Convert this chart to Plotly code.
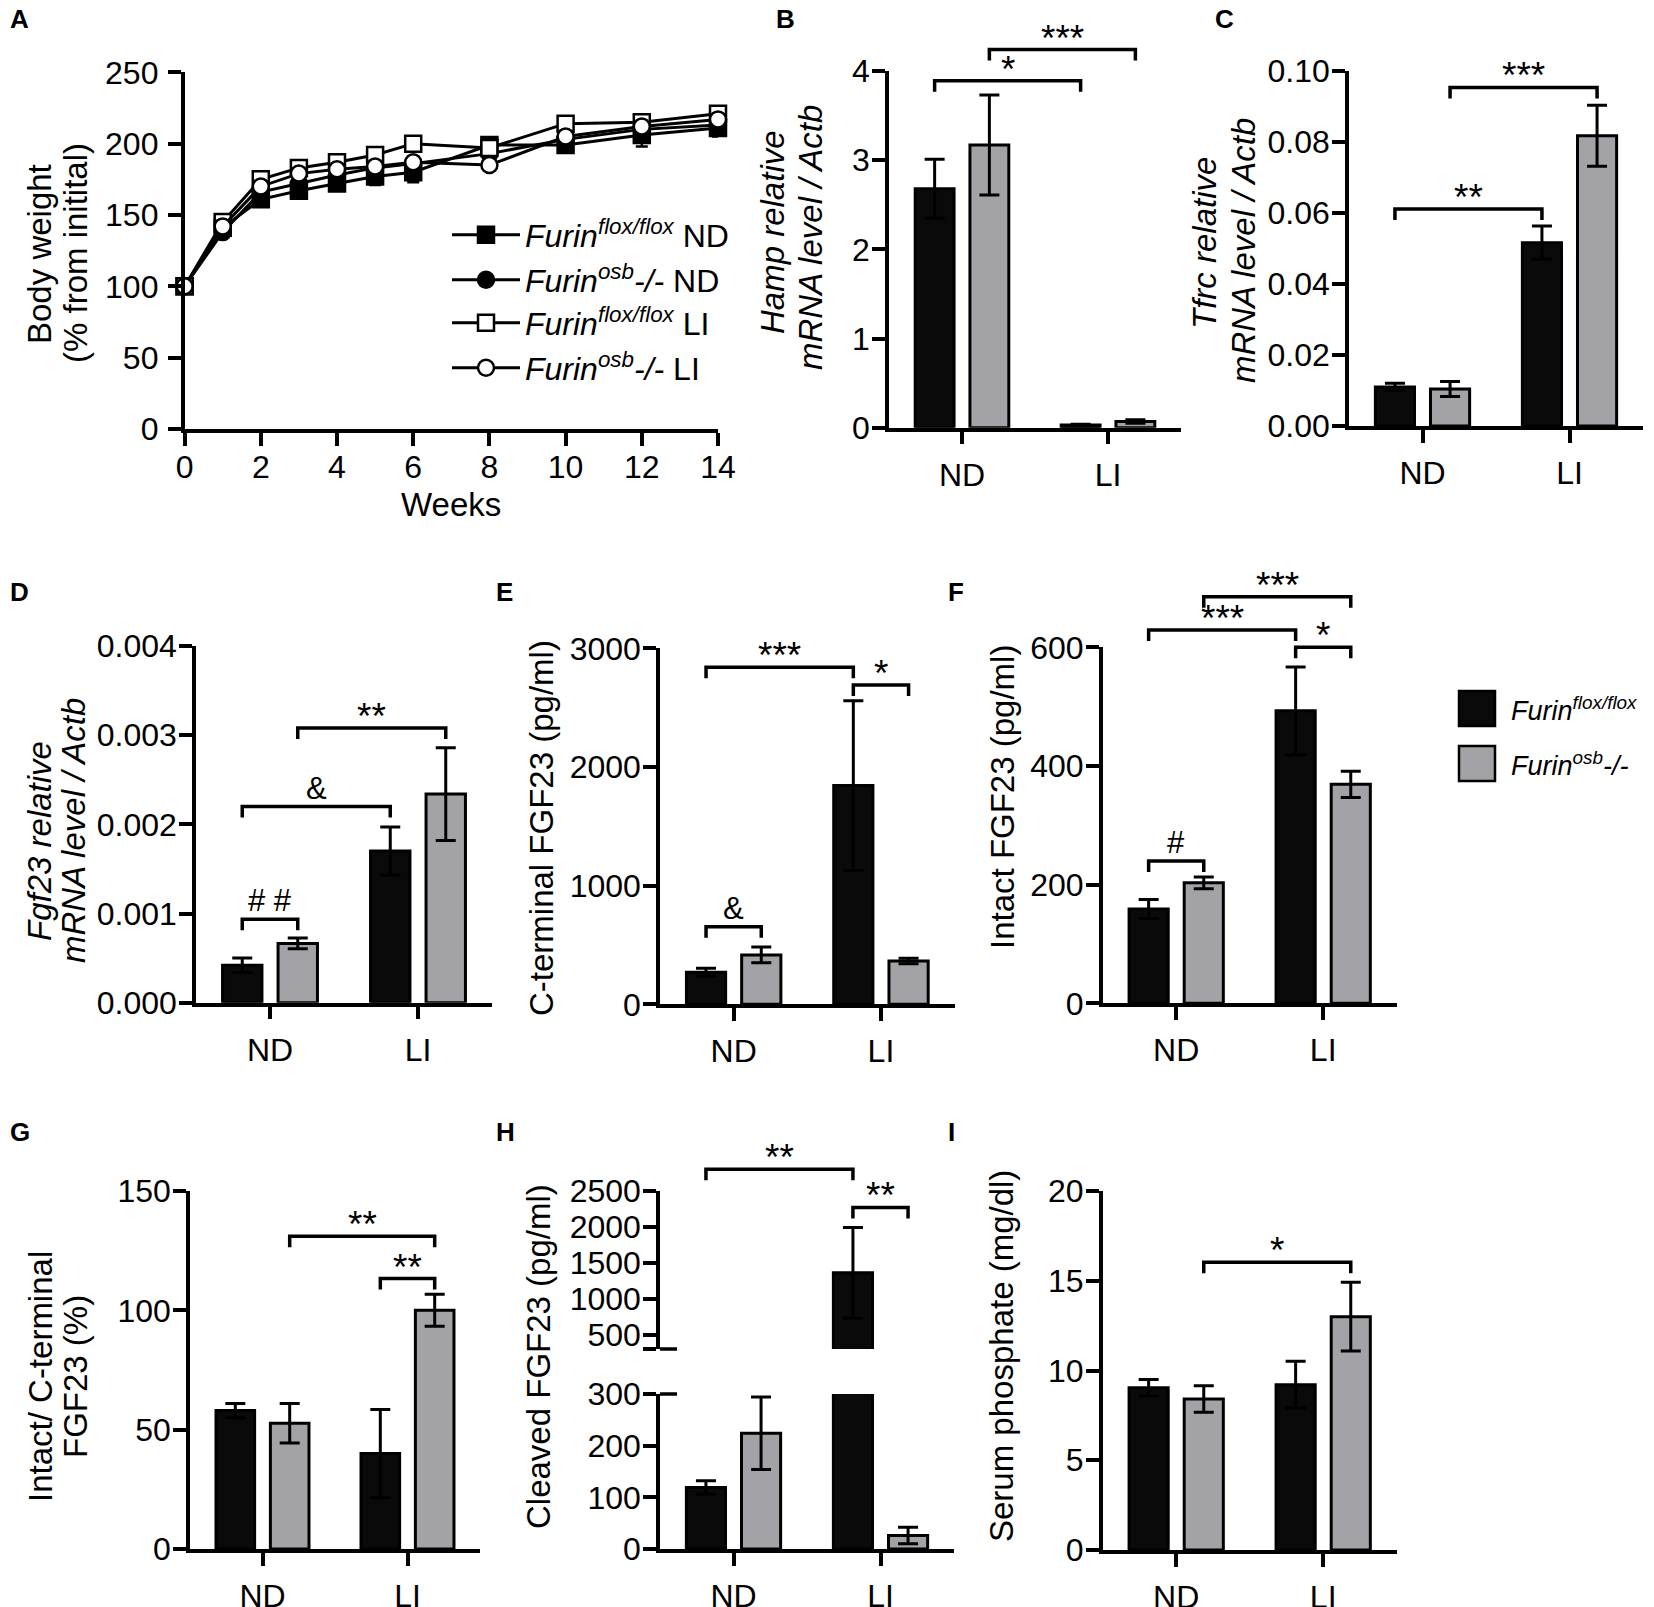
import plotly.graph_objects as go

# ---- data ----
weeks = [0, 1, 2, 3, 4, 5, 6, 8, 10, 12, 14]
bw_flox_nd = [100, 141, 161, 167, 172, 177, 180, 199, 199, 206, 211]
bw_flox_nd_err = [0, 5, 5, 5, 5, 6, 7, 4, 5, 8, 6]
bw_osb_nd = [100, 138, 166, 172, 178, 183, 186, 193, 203, 210, 213]
bw_osb_nd_err = [0, 4, 4, 4, 4, 4, 5, 4, 4, 5, 5]
bw_flox_li = [100, 145, 175, 183, 187, 192, 200, 197, 214, 215, 221]
bw_flox_li_err = [0, 4, 4, 4, 4, 4, 4, 4, 4, 4, 4]
bw_osb_li = [100, 142, 170, 179, 182, 184, 187, 185, 205, 212, 217]
bw_osb_li_err = [0, 4, 4, 4, 4, 4, 4, 4, 4, 4, 4]

groups = ["ND", "LI"]

hamp_flox = [2.68, 0.03]
hamp_flox_err = [0.33, 0.01]
hamp_osb = [3.17, 0.07]
hamp_osb_err = [0.56, 0.02]

tfrc_flox = [0.0110, 0.0516]
tfrc_flox_err = [0.0010, 0.0047]
tfrc_osb = [0.0104, 0.0817]
tfrc_osb_err = [0.0021, 0.0086]

fgf23_flox = [0.00042, 0.00170]
fgf23_flox_err = [0.00008, 0.00027]
fgf23_osb = [0.000665, 0.00234]
fgf23_osb_err = [0.00006, 0.00052]

cterm_flox = [270, 1843]
cterm_flox_err = [33, 716]
cterm_osb = [416, 365]
cterm_osb_err = [66, 23]

intact_flox = [159, 493]
intact_flox_err = [16, 74]
intact_osb = [203, 369]
intact_osb_err = [10, 22]

ratio_flox = [58, 40]
ratio_flox_err = [3, 18.5]
ratio_osb = [52.7, 100]
ratio_osb_err = [8.3, 6.7]

cleaved_flox = [119, 1358]
cleaved_flox_err = [13, 630]
cleaved_osb = [224, 26]
cleaved_osb_err = [70, 16]

phos_flox = [9.04, 9.21]
phos_flox_err = [0.46, 1.3]
phos_osb = [8.41, 13.0]
phos_osb_err = [0.74, 1.92]

# significance brackets: panel, (group, series) -> (group, series), level, label
brackets = [
    ("B", 0, "flox", 1, "flox", 3.89, "*"),
    ("B", 0, "osb", 1, "osb", 4.24, "***"),
    ("C", 0, "flox", 1, "flox", 0.0611, "**"),
    ("C", 0, "osb", 1, "osb", 0.0953, "***"),
    ("D", 0, "flox", 0, "osb", 0.000935, "# #"),
    ("D", 0, "flox", 1, "flox", 0.0022, "&"),
    ("D", 0, "osb", 1, "osb", 0.00308, "**"),
    ("E", 0, "flox", 0, "osb", 654, "&"),
    ("E", 0, "flox", 1, "flox", 2840, "***"),
    ("E", 1, "flox", 1, "osb", 2691, "*"),
    ("F", 0, "flox", 0, "osb", 240, "#"),
    ("F", 0, "flox", 1, "flox", 629, "***"),
    ("F", 1, "flox", 1, "osb", 600, "*"),
    ("F", 0, "osb", 1, "osb", 685, "***"),
    ("G", 0, "osb", 1, "osb", 131, "**"),
    ("G", 1, "flox", 1, "osb", 113.3, "**"),
    ("Hup", 0, "flox", 1, "flox", 2797, "**"),
    ("Hup", 1, "flox", 1, "osb", 2268, "**"),
    ("I", 0, "osb", 1, "osb", 16.03, "*"),
]

# ---- geometry (pixels of the 1654x1607 page) ----
W, H = 1654, 1607
PAGE_OFFSET = 8  # the html body margin shifts the figure on the page
FONT = "Liberation Sans, Arial, Helvetica, sans-serif"
BLACK_FILL = "#0a0a0a"
GRAY_FILL = "#a3a3a7"
BARGAP = 0.25
BARGROUPGAP = 0.29
OFFSET = (1 - BARGAP) / 4
TICK_SIZE = 32
TITLE_SIZE = 33


def fx(px):
    return (px - PAGE_OFFSET) / W


def fy(py):
    return 1 - (py - PAGE_OFFSET) / H


# panel: x-axis id, y-axis id, x px span, y px span (top, bottom), y range
panels = {
    "A": dict(xa="x", ya="y", xs=(184.6, 718), ys=(72.3, 429), yr=(0, 250)),
    "B": dict(xa="x2", ya="y2", xs=(889, 1181), ys=(71, 427.7), yr=(0, 4)),
    "C": dict(xa="x3", ya="y3", xs=(1349, 1643), ys=(70.7, 426), yr=(0, 0.1)),
    "D": dict(xa="x4", ya="y4", xs=(196, 492), ys=(646, 1002.7), yr=(0, 0.004)),
    "E": dict(xa="x5", ya="y5", xs=(660, 954.6), ys=(648.3, 1004.3), yr=(0, 3000)),
    "F": dict(xa="x6", ya="y6", xs=(1102.7, 1396.7), ys=(647.3, 1003.3), yr=(0, 600)),
    "G": dict(xa="x7", ya="y7", xs=(190, 480), ys=(1191, 1549), yr=(0, 150)),
    "H": dict(xa="x8", ya="y8", xs=(660, 954), ys=(1394, 1549), yr=(0, 300)),
    "Hup": dict(xa="x9", ya="y9", xs=(660, 954), ys=(1190.7, 1349), yr=(300, 2500)),
    "I": dict(xa="x10", ya="y10", xs=(1102.7, 1396.7), ys=(1191, 1550), yr=(0, 20)),
}


def axkey(a):
    return ("xaxis" if a[0] == "x" else "yaxis") + a[1:]


fig = go.Figure()

# ---- panel A: body weight curves, each with its own one-row legend ----
series_a = [
    (bw_flox_nd, bw_flox_nd_err, "square", "black", "<i>Furin<sup>flox/flox</sup></i> ND", "legend", 235),
    (bw_osb_nd, bw_osb_nd_err, "circle", "black", "<i>Furin<sup>osb</sup>-/-</i> ND", "legend2", 280),
    (bw_flox_li, bw_flox_li_err, "square", "white", "<i>Furin<sup>flox/flox</sup></i> LI", "legend3", 323),
    (bw_osb_li, bw_osb_li_err, "circle", "white", "<i>Furin<sup>osb</sup>-/-</i> LI", "legend4", 368),
]
legends = {}
for vals, errs, sym, fill, name, leg, row_y in series_a:
    fig.add_trace(go.Scatter(
        x=weeks, y=vals, name=name, mode="lines+markers",
        line=dict(color="black", width=3),
        marker=dict(symbol=sym, size=16, color=fill, line=dict(color="black", width=2.5)),
        error_y=dict(type="data", array=errs, color="black", thickness=2.5, width=6),
        cliponaxis=False, xaxis="x", yaxis="y", showlegend=True, legend=leg,
    ))
    legends[leg] = dict(x=fx(447), y=fy(row_y), xanchor="left", yanchor="middle",
                        font=dict(size=32, color="black", family=FONT),
                        bgcolor="rgba(0,0,0,0)", itemwidth=68, tracegroupgap=0,
                        itemclick=False, itemdoubleclick=False)

# ---- bar panels ----
bar_sets = {
    "B": (hamp_flox, hamp_flox_err, hamp_osb, hamp_osb_err),
    "C": (tfrc_flox, tfrc_flox_err, tfrc_osb, tfrc_osb_err),
    "D": (fgf23_flox, fgf23_flox_err, fgf23_osb, fgf23_osb_err),
    "E": (cterm_flox, cterm_flox_err, cterm_osb, cterm_osb_err),
    "F": (intact_flox, intact_flox_err, intact_osb, intact_osb_err),
    "G": (ratio_flox, ratio_flox_err, ratio_osb, ratio_osb_err),
    "H": (cleaved_flox, cleaved_flox_err, cleaved_osb, cleaved_osb_err),
    "Hup": (cleaved_flox, cleaved_flox_err, cleaved_osb, cleaved_osb_err),
    "I": (phos_flox, phos_flox_err, phos_osb, phos_osb_err),
}
for key, (fv, fe, ov, oe) in bar_sets.items():
    p = panels[key]
    for vals, errs, fill, nm in [(fv, fe, BLACK_FILL, "Furin flox/flox"), (ov, oe, GRAY_FILL, "Furin osb-/-")]:
        # on the upper part of the broken axis only the tall black bar shows
        err_visible = not (key == "Hup" and fill == GRAY_FILL)
        fig.add_trace(go.Bar(
            x=groups, y=vals, name=nm, showlegend=False,
            marker=dict(color=fill, line=dict(color="black", width=3)),
            error_y=dict(type="data", array=errs, color="black", thickness=3, width=10,
                         visible=err_visible),
            xaxis=p["xa"], yaxis=p["ya"],
        ))

# ---- axes ----
base = dict(
    showline=True, linecolor="black", linewidth=3.5, ticks="outside", ticklen=13,
    tickwidth=3.5, tickcolor="black", showgrid=False, zeroline=False, fixedrange=True,
    tickfont=dict(size=TICK_SIZE, color="black", family=FONT),
)
ytick_cfg = {
    "A": dict(tickvals=[0, 50, 100, 150, 200, 250]),
    "B": dict(tickvals=[0, 1, 2, 3, 4]),
    "C": dict(tickvals=[0, 0.02, 0.04, 0.06, 0.08, 0.10], tickformat=".2f"),
    "D": dict(tickvals=[0, 0.001, 0.002, 0.003, 0.004], tickformat=".3f"),
    "E": dict(tickvals=[0, 1000, 2000, 3000]),
    "F": dict(tickvals=[0, 200, 400, 600]),
    "G": dict(tickvals=[0, 50, 100, 150]),
    "H": dict(tickvals=[0, 100, 200, 300]),
    "Hup": dict(tickvals=[300, 500, 1000, 1500, 2000, 2500],
                ticktext=[" ", "500", "1000", "1500", "2000", "2500"]),
    "I": dict(tickvals=[0, 5, 10, 15, 20]),
}
layout_axes = {}
for key, p in panels.items():
    xd = [fx(p["xs"][0]), fx(p["xs"][1])]
    yd = [fy(p["ys"][1]), fy(p["ys"][0])]
    if key == "A":
        xcfg = dict(base, domain=xd, anchor=p["ya"], range=[0, 14],
                    tickvals=[0, 2, 4, 6, 8, 10, 12, 14], ticklabelstandoff=-6)
    elif key == "Hup":
        xcfg = dict(domain=xd, anchor=p["ya"], matches="x8", visible=False,
                    type="category", range=[-0.5, 1.5])
    else:
        xcfg = dict(base, domain=xd, anchor=p["ya"], type="category",
                    range=[-0.5, 1.5], ticklabelstandoff=3)
    ycfg = dict(base, domain=yd, anchor=p["xa"], range=list(p["yr"]),
                ticklabelstandoff=3 if key == "A" else -4, **ytick_cfg[key])
    layout_axes[axkey(p["xa"])] = xcfg
    layout_axes[axkey(p["ya"])] = ycfg

shapes = []
annotations = []

# significance brackets drawn in page coordinates derived from the axes
for key, g0, s0, g1, s1, level, label in brackets:
    p = panels[key]
    x0p, x1p = p["xs"]
    ytop, ybot = p["ys"]
    r0, r1 = p["yr"]

    def xpix(g, s):
        xv = g + (-OFFSET if s == "flox" else OFFSET)
        return x0p + (xv + 0.5) / 2 * (x1p - x0p)

    ya_px = ybot - (level - r0) / (r1 - r0) * (ybot - ytop)
    xa_px, xb_px = xpix(g0, s0), xpix(g1, s1)
    path = "M{:.5f},{:.5f} L{:.5f},{:.5f} L{:.5f},{:.5f} L{:.5f},{:.5f}".format(
        fx(xa_px), fy(ya_px + 11), fx(xa_px), fy(ya_px),
        fx(xb_px), fy(ya_px), fx(xb_px), fy(ya_px + 11))
    shapes.append(dict(type="path", path=path, xref="paper", yref="paper",
                       line=dict(color="black", width=3.5)))
    star = label.startswith("*")
    annotations.append(dict(
        x=fx((xa_px + xb_px) / 2), y=fy(ya_px), xref="paper", yref="paper",
        text=label, showarrow=False, xanchor="center", yanchor="bottom",
        yshift=-11 if star else -1,
        font=dict(size=37 if star else 31, color="black", family=FONT),
    ))

# broken-axis marks on panel H
for ypx in (1349, 1394):
    shapes.append(dict(type="line", xref="paper", yref="paper",
                       x0=fx(660), x1=fx(677), y0=fy(ypx), y1=fy(ypx),
                       line=dict(color="black", width=3.5)))

# axis titles, one annotation per line: text, x centre, y centre (px)
title_lines = [
    ("Body weight", 39, 254), ("(% from initital)", 75, 253),
    ("<i>Hamp relative</i>", 773, 232), ("<i>mRNA level / Actb</i>", 810, 238),
    ("<i>Tfrc relative</i>", 1205, 243), ("<i>mRNA level / Actb</i>", 1243, 251),
    ("<i>Fgf23 relative</i>", 39, 841), ("<i>mRNA level / Actb</i>", 73, 831),
    ("C-terminal FGF23 (pg/ml)", 541, 828),
    ("Intact FGF23 (pg/ml)", 1002, 797),
    ("Intact/ C-terminal", 40, 1377), ("FGF23 (%)", 75, 1377),
    ("Cleaved FGF23 (pg/ml)", 538, 1357),
    ("Serum phosphate (mg/dl)", 1001, 1356),
]
for text, xp, yp in title_lines:
    annotations.append(dict(x=fx(xp), y=fy(yp), xref="paper", yref="paper", text=text,
                            showarrow=False, textangle=-90, xanchor="center", yanchor="middle",
                            font=dict(size=TITLE_SIZE, color="black", family=FONT)))
annotations.append(dict(x=fx(451), y=fy(504), xref="paper", yref="paper", text="Weeks",
                        showarrow=False, xanchor="center", yanchor="middle",
                        font=dict(size=TITLE_SIZE, color="black", family=FONT)))

# panel letters
letters = [("A", 8, 19), ("B", 774, 19), ("C", 1213, 19),
           ("D", 8, 592), ("E", 494, 592), ("F", 946, 592),
           ("G", 8, 1132), ("H", 494, 1132), ("I", 946, 1132)]
for t, xp, yp in letters:
    annotations.append(dict(x=fx(xp), y=fy(yp), xref="paper", yref="paper", text="<b>%s</b>" % t,
                            showarrow=False, xanchor="left", yanchor="middle",
                            font=dict(size=26, color="black", family=FONT)))

# legend for the bar panels
for (y0, y1), fill, text in [((691, 726), BLACK_FILL, "<i>Furin<sup>flox/flox</sup></i>"),
                             ((746, 781), GRAY_FILL, "<i>Furin<sup>osb</sup>-/-</i>")]:
    shapes.append(dict(type="rect", xref="paper", yref="paper",
                       x0=fx(1459), x1=fx(1495), y0=fy(y1), y1=fy(y0),
                       fillcolor=fill, line=dict(color="black", width=2.5)))
    annotations.append(dict(x=fx(1509), y=fy((y0 + y1) / 2), xref="paper", yref="paper",
                            text=text, showarrow=False, xanchor="left", yanchor="middle",
                            font=dict(size=27, color="black", family=FONT)))

fig.update_layout(
    width=W, height=H, margin=dict(l=0, r=0, t=0, b=0, pad=0, autoexpand=False),
    paper_bgcolor="white", plot_bgcolor="white",
    barmode="group", bargap=BARGAP, bargroupgap=BARGROUPGAP,
    font=dict(family=FONT, color="black"),
    showlegend=True,
    shapes=shapes, annotations=annotations,
    **legends,
    **layout_axes,
)

fig.write_html("out.html")
